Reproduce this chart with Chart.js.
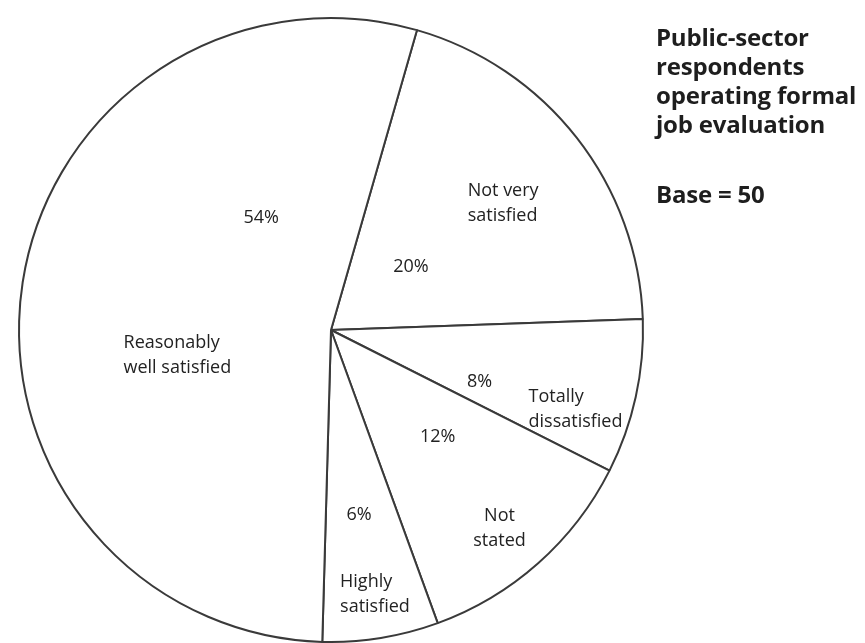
<!DOCTYPE html>
<html>
<head>
<meta charset="utf-8">
<script src="https://cdn.jsdelivr.net/npm/chart.js@4.4.1/dist/chart.umd.min.js"></script>
<style>
  html, body { margin: 0; padding: 0; background: #fff; overflow: hidden; }
  #wrap { position: relative; width: 865px; height: 643px; }
  #title {
    position: absolute; left: 656px; top: 22px;
    font: bold 24px "Open Sans", sans-serif; line-height: 29px; color: #1e1e1e;
    letter-spacing: -0.2px;
  }
  #base { margin-top: 41px; }
</style>
</head>
<body>
<div id="wrap">
  <canvas id="myChart" width="865" height="643"></canvas>
  <div id="title">Public-sector<br>respondents<br>operating formal<br>job evaluation<div id="base">Base = 50</div></div>
</div>
<script>
// clockwise from the top
const categories = [
    ['Not very', 'satisfied'],
    ['Totally', 'dissatisfied'],
    ['Not', 'stated'],
    ['Highly', 'satisfied'],
    ['Reasonably', 'well satisfied']
];
const values = [20, 8, 12, 6, 54];

// where the texts sit, as offsets from the pie centre in units of the radius
const namePos = [
    { dx: 0.438, dy: -0.447, align: 'left' },
    { dx: 0.633, dy: 0.214, align: 'left' },
    { dx: 0.540, dy: 0.597, align: 'center' },
    { dx: 0.029, dy: 0.808, align: 'left' },
    { dx: -0.665, dy: 0.042, align: 'left' }
];
const pctPos = [
    { dx: 0.256, dy: -0.201 },
    { dx: 0.476, dy: 0.166 },
    { dx: 0.342, dy: 0.342 },
    { dx: 0.090, dy: 0.594 },
    { dx: -0.224, dy: -0.358 }
];

const sliceText = {
    id: 'sliceText',
    afterDatasetsDraw(chart) {
        const arc = chart.getDatasetMeta(0).data[0];
        const cx = arc.x, cy = arc.y, r = arc.outerRadius;
        const c = chart.ctx;
        c.save();
        c.fillStyle = '#222';
        c.font = '18px "Open Sans", sans-serif';
        c.textBaseline = 'middle';
        categories.forEach((lines, i) => {
            const p = namePos[i];
            c.textAlign = p.align;
            lines.forEach((t, k) => {
                c.fillText(t, cx + p.dx * r, cy + p.dy * r + k * 25);
            });
            c.textAlign = 'center';
            c.fillText(values[i] + '%', cx + pctPos[i].dx * r, cy + pctPos[i].dy * r);
        });
        c.restore();
    }
};

new Chart(document.getElementById('myChart'), {
    type: 'pie',
    data: {
        labels: categories.map(l => l.join(' ')),
        datasets: [{
            data: values,
            backgroundColor: '#ffffff',
            borderColor: '#3a3a3a',
            borderWidth: 2
        }]
    },
    options: {
        responsive: false,
        animation: false,
        rotation: 16,
        layout: {
            padding: { left: 16, right: 219, top: 17, bottom: 0 }
        },
        plugins: {
            legend: { display: false },
            tooltip: { enabled: false }
        }
    },
    plugins: [sliceText]
});
</script>
</body>
</html>
